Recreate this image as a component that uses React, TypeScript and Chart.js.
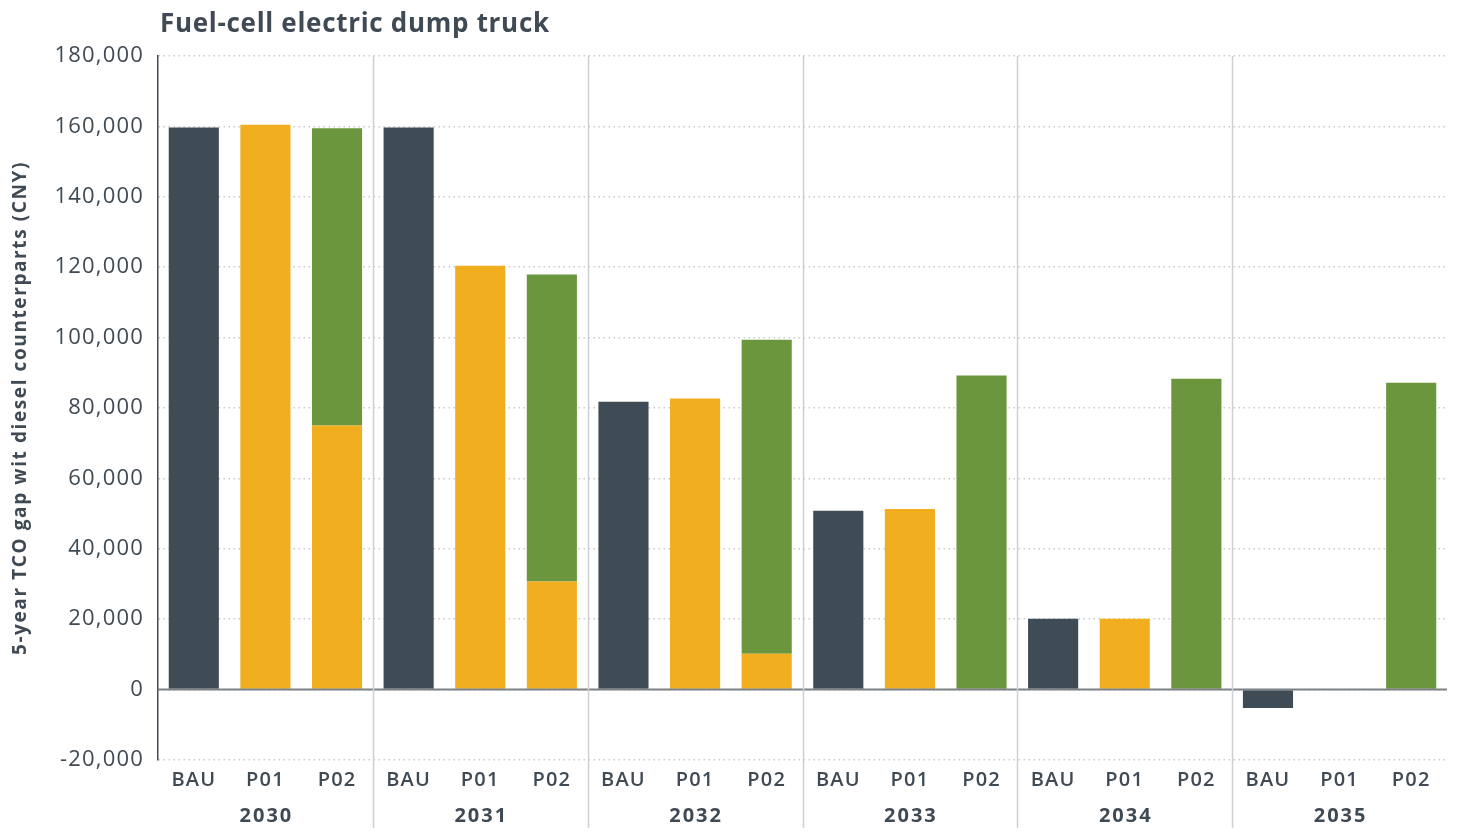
import React, { useEffect, useRef } from "react";
import { Chart, registerables } from "chart.js";

Chart.register(...registerables);

const years = ["2030", "2031", "2032", "2033", "2034", "2035"];
const scenarios = ["BAU", "P01", "P02"];
const bauValues = [159700, 159700, 81800, 50800, 20100, -5200];
const p01Values = [160500, 120400, 82700, 51300, 20100, 0];
const p02Base = [75000, 30700, 10200, 0, 0, 0];
const p02Total = [159500, 117900, 99400, 89200, 88300, 87200];
const yTicks = [-20000, 0, 20000, 40000, 60000, 80000, 100000, 120000, 140000, 160000, 180000];

const TITLE = "Fuel-cell electric dump truck";
const Y_TITLE = "5-year TCO gap wit diesel counterparts (CNY)";

const C_DARK = "#3f4c56";
const C_YELLOW = "#f1af1f";
const C_GREEN = "#6c963e";
const TEXT = "#3f4a54";
const FONT = "'Open Sans', sans-serif";

export default function App() {
  const ref = useRef<HTMLCanvasElement | null>(null);

  useEffect(() => {
    document.body.style.margin = "0";
    const labels: string[] = [];
    const darkData: (number | null)[] = [];
    const yellowData: (number | null)[] = [];
    const greenData: (number | null)[] = [];
    years.forEach((y, i) => {
      scenarios.forEach((s) => {
        labels.push(s + "|" + y);
        if (s === "BAU") {
          darkData.push(bauValues[i]);
          yellowData.push(null);
          greenData.push(null);
        } else if (s === "P01") {
          darkData.push(null);
          yellowData.push(p01Values[i]);
          greenData.push(null);
        } else {
          darkData.push(null);
          yellowData.push(p02Base[i]);
          greenData.push(p02Total[i] - p02Base[i]);
        }
      });
    });

    const overlay = {
      id: "overlay",
      beforeDraw(chart: any) {
        (chart.ctx as any).letterSpacing = "1.2px";
      },
      afterDatasetsDraw(chart: any) {
        const { ctx, chartArea, scales } = chart;
        const y = scales.y;
        ctx.save();
        const y0 = y.getPixelForValue(0);
        ctx.strokeStyle = "#7d8287";
        ctx.lineWidth = 2;
        ctx.beginPath();
        ctx.moveTo(chartArea.left, y0);
        ctx.lineTo(chartArea.right, y0);
        ctx.stroke();
        ctx.restore();
      },
      afterDraw(chart: any) {
        const { ctx, chartArea, scales } = chart;
        const x = scales.x;
        ctx.save();
        ctx.strokeStyle = "#d0d0d0";
        ctx.lineWidth = 1.5;
        for (let i = 1; i < years.length; i++) {
          const px = Math.round((x.getPixelForValue(i * 3 - 1) + x.getPixelForValue(i * 3)) / 2) + 0.5;
          ctx.beginPath();
          ctx.moveTo(px, chartArea.top);
          ctx.lineTo(px, 828);
          ctx.stroke();
        }
        ctx.fillStyle = TEXT;
        ctx.font = "700 20px " + FONT;
        (ctx as any).letterSpacing = "2px";
        ctx.textAlign = "center";
        ctx.textBaseline = "middle";
        years.forEach((yr, i) => {
          ctx.fillText(yr, x.getPixelForValue(i * 3 + 1) + 1, 816);
        });
        ctx.font = "700 26px " + FONT;
        (ctx as any).letterSpacing = "0.7px";
        ctx.textAlign = "left";
        ctx.textBaseline = "alphabetic";
        ctx.fillText(TITLE, 160, 32);
        ctx.translate(21, (chartArea.top + chartArea.bottom) / 2);
        ctx.rotate(-Math.PI / 2);
        ctx.font = "700 19px " + FONT;
        (ctx as any).letterSpacing = "1.6px";
        ctx.textAlign = "center";
        ctx.textBaseline = "middle";
        ctx.fillText(Y_TITLE, 0, 0);
        ctx.restore();
        (ctx as any).letterSpacing = "0px";
      },
    };

    const chart = new Chart(ref.current as HTMLCanvasElement, {
      type: "bar",
      data: {
        labels,
        datasets: [
          { label: "BAU", data: darkData, backgroundColor: C_DARK, barPercentage: 0.7, categoryPercentage: 1 },
          { label: "Yellow", data: yellowData, backgroundColor: C_YELLOW, barPercentage: 0.7, categoryPercentage: 1 },
          { label: "Green", data: greenData, backgroundColor: C_GREEN, barPercentage: 0.7, categoryPercentage: 1 },
        ],
      },
      options: {
        animation: false,
        responsive: true,
        maintainAspectRatio: false,
        layout: { padding: { top: 56, right: 11, left: 0, bottom: 0 } },
        plugins: { legend: { display: false }, tooltip: { enabled: false }, title: { display: false } },
        scales: {
          x: {
            stacked: true,
            grid: { display: false, drawTicks: false },
            border: { display: false },
            ticks: {
              color: TEXT,
              font: { family: FONT, size: 20, weight: "600" },
              padding: 8,
              maxRotation: 0,
              autoSkip: false,
              callback: function (this: any, v: any) {
                return String(this.getLabelForValue(v)).split("|")[0];
              },
            },
            afterFit(scale: any) {
              scale.height = 72;
            },
          },
          y: {
            stacked: true,
            min: -20000,
            max: 180000,
            afterBuildTicks(scale: any) {
              scale.ticks = yTicks.map((v) => ({ value: v }));
            },
            grid: { color: "#c9c9c9", lineWidth: 1.5, drawTicks: false },
            border: { display: true, color: "#3f4a54", width: 1.5, dash: [1.5, 3.5] },
            ticks: {
              color: TEXT,
              font: { family: FONT, size: 22, weight: "400" },
              padding: 14,
              callback: (v: any) => Number(v).toLocaleString("en-US"),
            },
            afterFit(scale: any) {
              scale.width = 158;
            },
          },
        },
      },
      plugins: [overlay],
    });
    return () => chart.destroy();
  }, []);

  return (
    <div style={{ position: "fixed", left: 0, top: 0, width: 1458, height: 832, background: "#fff" }}>
      <canvas ref={ref} />
    </div>
  );
}
